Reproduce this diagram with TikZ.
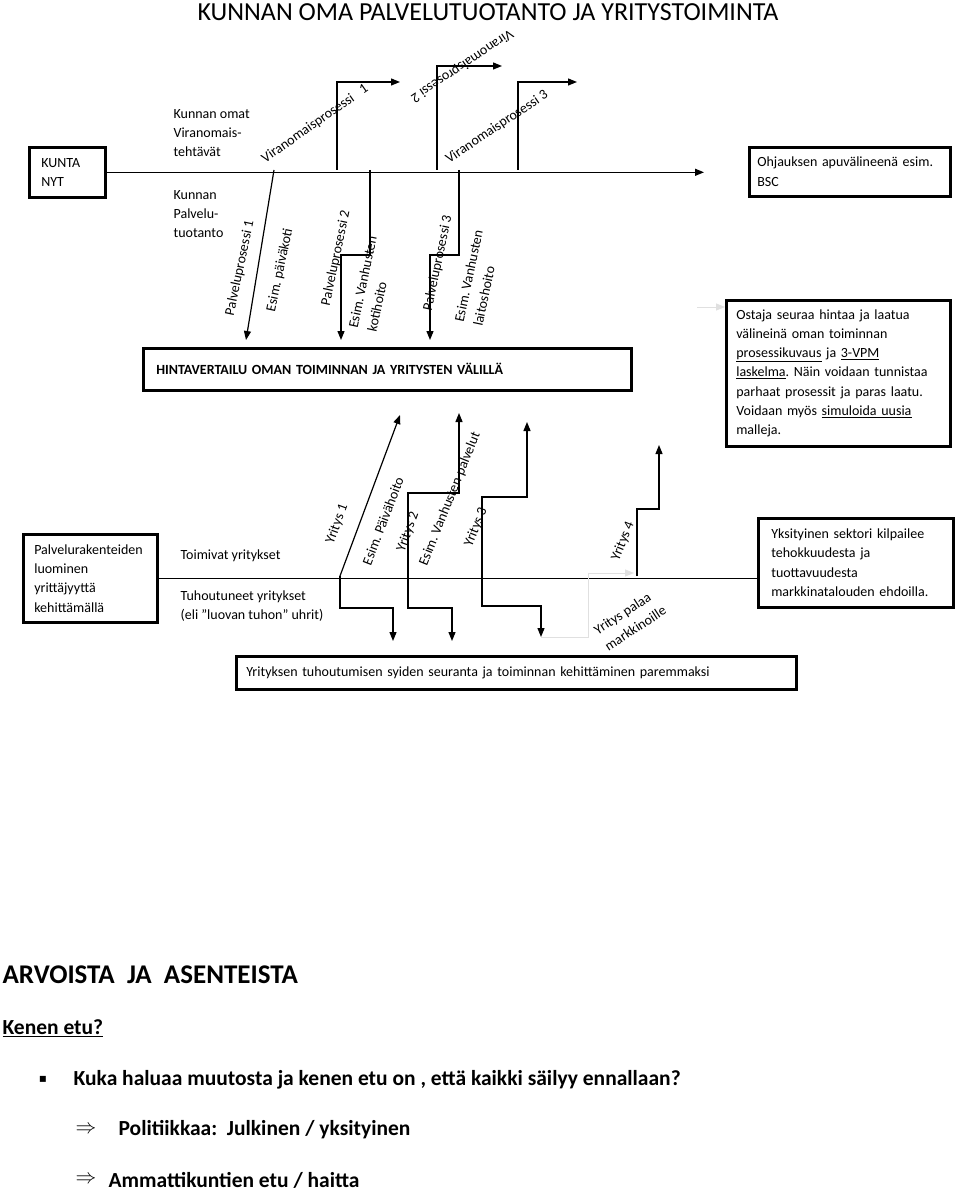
\documentclass[tikz,border=0pt]{standalone}
\usepackage{fontspec}
\setmainfont{Carlito}
\newfontfamily\symfont{DejaVu Sans}
\usetikzlibrary{arrows.meta}
\frenchspacing

\begin{document}
\begin{tikzpicture}[x=1pt,y=-1pt,line width=1.2pt,
  >={Triangle[length=9pt,width=7pt]},
  box/.style={draw,line width=2.6pt,anchor=north west,align=left,font=\fontsize{14}{19.3}\selectfont},
  lbl/.style={inner sep=0pt,align=left,font=\fontsize{14}{19.3}\selectfont},
  big/.style={inner sep=0pt,anchor=west,font=\bfseries\fontsize{21.5}{26}\selectfont},
  faint/.style={draw=black!12,line width=1pt}]
\fill[white] (0,0) rectangle (960,1193);
\useasboundingbox (0,0) rectangle (960,1193);

\node[inner sep=0pt,font=\fontsize{26}{30}\selectfont] (title) at (488,12) {KUNNAN OMA PALVELUTUOTANTO JA YRITYSTOIMINTA};

\node[box,minimum width=76pt,minimum height=50pt,text width=52pt,inner xsep=12pt] (kunta) at (28,146) {KUNTA\\NYT};
\node[box,minimum width=201pt,minimum height=49pt,text width=185pt,inner xsep=8pt] (ohj) at (748,146) {Ohjauksen apuvälineenä esim.\\BSC};
\node[box,minimum width=224pt,minimum height=146pt,text width=204pt,inner xsep=10pt] (ost) at (725,299) {Ostaja seuraa hintaa ja laatua\\välineinä oman toiminnan\\\underline{prosessikuvaus} ja \underline{3-VPM}\\\underline{laskelma}. Näin voidaan tunnistaa\\parhaat prosessit ja paras laatu.\\Voidaan myös \underline{simuloida uusia}\\malleja.};
\node[box,minimum width=488pt,minimum height=42pt,text width=462pt,inner xsep=13pt,font=\bfseries\fontsize{14}{19.3}\selectfont] (hinta) at (142,347) {HINTAVERTAILU OMAN TOIMINNAN JA YRITYSTEN VÄLILLÄ};
\node[box,minimum width=134pt,minimum height=88pt,text width=112pt,inner xsep=11pt] (prk) at (22,533) {Palvelurakenteiden\\luominen\\yrittäjyyttä\\kehittämällä};
\node[box,minimum width=195pt,minimum height=89pt,text width=169pt,inner xsep=13pt] (yks) at (757,517) {Yksityinen sektori kilpailee\\tehokkuudesta ja\\tuottavuudesta\\markkinatalouden ehdoilla.};
\node[box,minimum width=560pt,minimum height=33pt,text width=540pt,inner xsep=10pt] (seur) at (235,655) {Yrityksen tuhoutumisen syiden seuranta ja toiminnan kehittäminen paremmaksi};

\coordinate (mainend) at (704,170);
\draw[->] (kunta.east) -- (kunta.east -| mainend);
\node[lbl,anchor=west] (omat) at (173,133) {Kunnan omat\\Viranomais-\\tehtävät};
\node[lbl,anchor=west] (tuot) at (173,214) {Kunnan\\Palvelu-\\tuotanto};

\coordinate (vp1) at (337,170);
\coordinate (vp1e) at (400,82);
\coordinate (vp2) at (437,170);
\coordinate (vp2e) at (502,66);
\coordinate (vp3) at (518,170);
\coordinate (vp3e) at (577,82);
\draw[->] (vp1) |- (vp1e);
\draw[->] (vp2) |- (vp2e);
\draw[->] (vp3) |- (vp3e);
\node[lbl,rotate=35] (vp1lbl) at (315,124) {Viranomaisprosessi\ \ \ 1};
\node[lbl,rotate=214] (vp2lbl) at (462,66) {Viranomaisprosessi 2};
\node[lbl,rotate=34] (vp3lbl) at (497,127) {Viranomaisprosessi 3};

\coordinate (pp1) at (274,170);
\coordinate (pp1e) at (246,340);
\coordinate (pp2) at (370,170);
\coordinate (pp2e) at (341,340);
\coordinate (pp3) at (459,170);
\coordinate (pp3e) at (430,340);
\draw[->] (pp1) -- (pp1e);
\draw[->] (pp2) -- ++(0,85) -| (pp2e);
\draw[->] (pp3) -- ++(0,85) -| (pp3e);
\node[lbl,rotate=78] (pp1lbl) at (240,268) {Palveluprosessi 1};
\node[lbl,rotate=78] (ex1) at (280,270) {Esim. päiväkoti};
\node[lbl,rotate=78] (pp2lbl) at (336,258) {Palveluprosessi 2};
\node[lbl,rotate=78] (ex2) at (372,284) {Esim. Vanhusten\\kotihoito};
\node[lbl,rotate=78] (pp3lbl) at (438,263) {Palveluprosessi 3};
\node[lbl,rotate=78] (ex3) at (478,278) {Esim. Vanhusten\\laitoshoito};

\draw (prk.east) -- (prk.east -| yks.west);
\node[lbl,anchor=west] (toim) at (180,556) {Toimivat yritykset};
\node[lbl,anchor=west] (tuho) at (180,606) {Tuhoutuneet yritykset\\(eli ”luovan tuhon” uhrit)};

\coordinate (y1) at (340,576);
\coordinate (y1u) at (400,415);
\coordinate (y1d) at (393,641);
\coordinate (y2) at (408,576);
\coordinate (y2u) at (459,413);
\coordinate (y2d) at (452,641);
\coordinate (y3) at (482,576);
\coordinate (y3u) at (527,422);
\coordinate (y3d) at (541,637);
\coordinate (y4) at (637,576);
\coordinate (y4u) at (659,445);
\draw[->] (y1) -- (y1u);
\draw[->] (y1) -- ++(0,32) -| (y1d);
\draw[->] (y2) -- ++(0,-83) -| (y2u);
\draw[->] (y2) -- ++(0,32) -| (y2d);
\draw[->] (y3) -- ++(0,-79) -| (y3u);
\draw[->] (y3) -- ++(0,30) -| (y3d);
\draw[->] (y4) -- ++(0,-67) -| (y4u);
\draw[faint,->] (y3d) -- ++(47,0) |- ([xshift=-3pt,yshift=3pt]y4);
\coordinate (fa) at (697,307);
\draw[faint,->] (fa) -- (fa -| ost.west);
\node[lbl,rotate=70] (y1lbl) at (337,524) {Yritys 1};
\node[lbl,rotate=69] (ex4) at (383,521) {Esim. Päivähoito};
\node[lbl,rotate=70] (y2lbl) at (408,532) {Yritys 2};
\node[lbl,rotate=68] (ex5) at (450,499) {Esim. Vanhusten palvelut};
\node[lbl,rotate=68] (y3lbl) at (476,527) {Yritys 3};
\node[lbl,rotate=68] (y4lbl) at (623,541) {Yritys 4};
\node[lbl,rotate=33] (palaa) at (630,620) {Yritys palaa\\markkinoille};

\node[big,font=\bfseries\fontsize{27}{32}\selectfont] (arvo) at (2,975) {ARVOISTA\ \ JA\ \ ASENTEISTA};
\node[big] (kenen) at (2,1028) {\underline{Kenen etu?}};
\node[inner sep=0pt,font=\symfont\fontsize{12}{16}\selectfont] (bul) at (43,1079) {▪};
\node[big] (kuka) at (73,1080) {Kuka haluaa muutosta ja kenen etu on , että kaikki säilyy ennallaan?};
\node[inner sep=0pt,font=\fontsize{21.5}{26}\selectfont] (imp1) at (86,1130) {$\Rightarrow$};
\node[big] (pol) at (118,1130) {Politiikkaa:\ \ Julkinen / yksityinen};
\node[inner sep=0pt,font=\fontsize{21.5}{26}\selectfont] (imp2) at (86,1180) {$\Rightarrow$};
\node[big] (amm) at (108,1180) {Ammattikuntien etu / haitta};
\end{tikzpicture}
\end{document}
